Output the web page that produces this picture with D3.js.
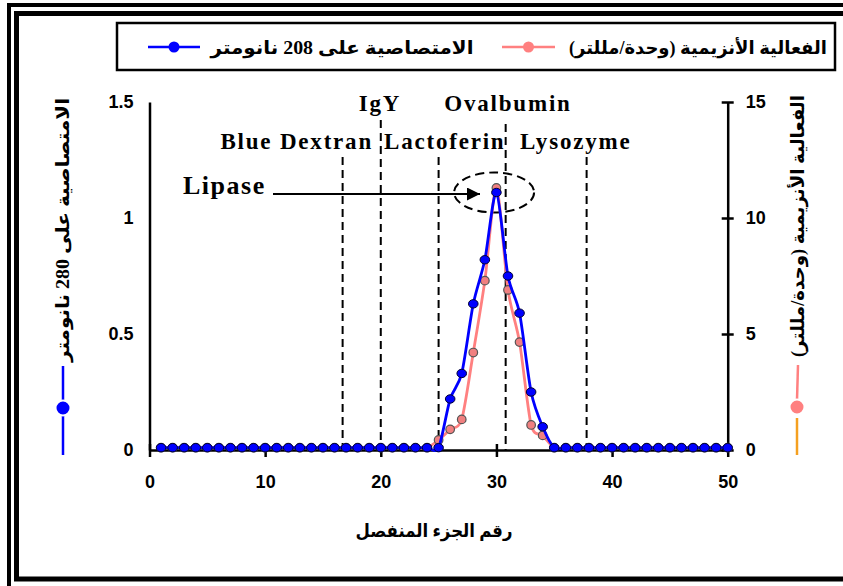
<!DOCTYPE html>
<html>
<head>
<meta charset="utf-8">
<script src="https://cdn.jsdelivr.net/npm/d3@7"></script>
<style>
  body { margin: 0; background: #fff; }
  .tick text { font-family: "Liberation Sans", Arial, sans-serif; font-weight: bold; font-size: 18px; }
  .lbl { font-family: "Liberation Serif", "Times New Roman", serif; font-weight: bold; }
  .ar { font-family: "Liberation Serif", "DejaVu Sans", serif; font-weight: bold; }
</style>
</head>
<body>
<svg id="chart" width="843" height="586"></svg>
<script>
// fraction number (x), absorbance (left axis), enzyme activity (right axis)
var fractions = [1,2,3,4,5,6,7,8,9,10,11,12,13,14,15,16,17,18,19,20,21,22,23,24,25,
                 26,27,28,29,30,31,32,33,34,35,36,37,38,39,40,41,42,43,44,45,46,47,48,49,50];
var absorbance = [0.01,0.01,0.01,0.01,0.01,0.01,0.01,0.01,0.01,0.01,0.01,0.01,0.01,0.01,0.01,
                  0.01,0.01,0.01,0.01,0.01,0.01,0.01,0.01,0.01,0.01,
                  0.22,0.33,0.63,0.82,1.11,0.75,0.59,0.25,0.10,0.01,
                  0.01,0.01,0.01,0.01,0.01,0.01,0.01,0.01,0.01,0.01,0.01,0.01,0.01,0.01,0.01];
var activity = [0.1,0.1,0.1,0.1,0.1,0.1,0.1,0.1,0.1,0.1,0.1,0.1,0.1,0.1,0.1,
                0.1,0.1,0.1,0.1,0.1,0.1,0.1,0.1,0.1,0.43,
                0.89,1.32,4.2,7.3,11.3,6.9,4.65,1.08,0.63,0.1,
                0.1,0.1,0.1,0.1,0.1,0.1,0.1,0.1,0.1,0.1,0.1,0.1,0.1,0.1,0.1];
var xTicks = [0,10,20,30,40,50];
var leftTicks = [0,0.5,1,1.5];
var rightTicks = [0,5,10,15];
// standard markers (fraction where each one elutes)
var markerNames = ["Blue Dextran","IgY","Lactoferin","Ovalbumin","Lysozyme"];
var markerPos = [16.7,20,25,30.8,37.8];

var legendBlue = "الامتصاصية على 208 نانومتر";
var legendPink = "الفعالية الأنزيمية (وحدة/مللتر)";
var leftTitle = "الامتصاصية على 280 نانومتر";
var rightTitle = "الفعالية الأنزيمية (وحدة/مللتر)";
var xTitle = "رقم الجزء المنفصل";

var svg = d3.select("#chart");
var blue = "#0000ff", pink = "#ff8080";

// double frame
svg.append("rect").attr("x", 9).attr("y", 5).attr("width", 900).attr("height", 700)
   .attr("fill", "none").attr("stroke", "#000").attr("stroke-width", 4);
svg.append("rect").attr("x", 16.5).attr("y", 13.5).attr("width", 900).attr("height", 565.5)
   .attr("fill", "none").attr("stroke", "#000").attr("stroke-width", 5);

var x = d3.scaleLinear().domain([0, 50]).range([149.5, 727.7]);
var y = d3.scaleLinear().domain([0, 1.5]).range([450, 102]);
var y2 = d3.scaleLinear().domain([0, 15]).range([450, 102]);

// axes
var gx = svg.append("g").attr("transform", "translate(0,450)")
  .call(d3.axisBottom(x).tickValues(xTicks).tickSizeInner(7).tickSizeOuter(0).tickPadding(18));
gx.selectAll(".tick line").attr("y1", -6);
var gl = svg.append("g").attr("transform", "translate(149.5,0)")
  .call(d3.axisLeft(y).tickValues(leftTicks).tickFormat(d3.format("")).tickSizeInner(7).tickSizeOuter(0).tickPadding(9));
gl.selectAll(".tick line").attr("x1", -7);
var gr = svg.append("g").attr("transform", "translate(727.7,0)")
  .call(d3.axisRight(y2).tickValues(rightTicks).tickSizeInner(6).tickSizeOuter(0).tickPadding(12));
gr.selectAll(".tick line").attr("x1", -6);
svg.selectAll(".domain").attr("stroke-width", 2.5);
svg.selectAll(".tick line").attr("stroke-width", 2.5);
svg.selectAll(".tick text").attr("fill", "#000");

// marker dashed lines and labels
var labelY = [149, 111, 149, 111, 149];
var lineTop = [157, 120, 157, 124, 157];
markerPos.forEach(function(m, i) {
  svg.append("line").attr("x1", x(m)).attr("x2", x(m)).attr("y1", lineTop[i]).attr("y2", 450)
     .attr("stroke", "#000").attr("stroke-width", 2).attr("stroke-dasharray", "8,5");
});
var labelX = [373, 380, 384, 508, 520];
var anchors = ["end", "middle", "start", "middle", "start"];
markerNames.forEach(function(n, i) {
  svg.append("text").attr("class", "lbl").attr("x", labelX[i]).attr("y", labelY[i])
     .attr("text-anchor", anchors[i]).attr("font-size", 23).attr("letter-spacing", 1.8)
     .text(n);
});

// Lipase arrow and ellipse
svg.append("defs").append("marker").attr("id", "arr").attr("viewBox", "0 0 10 10")
   .attr("refX", 10).attr("refY", 5).attr("markerWidth", 20).attr("markerHeight", 13)
   .attr("markerUnits", "userSpaceOnUse").attr("orient", "auto")
   .append("path").attr("d", "M0,0L10,5L0,10z").attr("fill", "#000");
svg.append("text").attr("class", "lbl").attr("x", 183).attr("y", 194)
   .attr("font-size", 26).attr("letter-spacing", 1.5).text("Lipase");
svg.append("line").attr("x1", 273).attr("x2", 480).attr("y1", 194).attr("y2", 194)
   .attr("stroke", "#000").attr("stroke-width", 2).attr("marker-end", "url(#arr)");
svg.append("ellipse").attr("cx", x(29.8)).attr("cy", y(1.11)).attr("rx", 40).attr("ry", 20)
   .attr("fill", "none").attr("stroke", "#000").attr("stroke-width", 2).attr("stroke-dasharray", "9,5");

// series
var pts = fractions.map(function(f, i) { return { f: f, a: absorbance[i], e: activity[i] }; });
var curve = d3.curveCardinal.tension(0.2);
svg.append("path").datum(pts).attr("fill", "none").attr("stroke", pink).attr("stroke-width", 2.8)
   .attr("d", d3.line().curve(curve).x(function(d) { return x(d.f); }).y(function(d) { return y2(d.e); }));
svg.append("g").selectAll("circle").data(pts).join("circle")
   .attr("cx", function(d) { return x(d.f); }).attr("cy", function(d) { return y2(d.e); })
   .attr("r", 4.3).attr("fill", "#f08080").attr("stroke", "#555").attr("stroke-width", 1.2);
svg.append("path").datum(pts).attr("fill", "none").attr("stroke", blue).attr("stroke-width", 2.8)
   .attr("d", d3.line().curve(curve).x(function(d) { return x(d.f); }).y(function(d) { return y(d.a); }));
svg.append("g").selectAll("ellipse").data(pts).join("ellipse")
   .attr("cx", function(d) { return x(d.f); }).attr("cy", function(d) { return y(d.a); })
   .attr("rx", 4.8).attr("ry", 4.2).attr("fill", blue).attr("stroke", "#000033").attr("stroke-width", 1);

// legend
svg.append("rect").attr("x", 117).attr("y", 23).attr("width", 718).attr("height", 47)
   .attr("fill", "#fff").attr("stroke", "#000").attr("stroke-width", 2.5);
function legendSymbol(x1, x2, cy, color, r) {
  svg.append("line").attr("x1", x1).attr("x2", x2).attr("y1", cy).attr("y2", cy)
     .attr("stroke", color).attr("stroke-width", 2.5);
  svg.append("circle").attr("cx", (x1 + x2) / 2).attr("cy", cy).attr("r", r).attr("fill", color);
}
legendSymbol(148, 200, 47, blue, 5.5);
legendSymbol(502, 555, 47, pink, 5.5);
svg.append("text").attr("class", "ar").attr("direction", "rtl").attr("x", 342).attr("y", 54)
   .attr("text-anchor", "middle").attr("font-size", 18)
   .attr("textLength", 263).attr("lengthAdjust", "spacingAndGlyphs").text(legendBlue);
svg.append("text").attr("class", "ar").attr("direction", "rtl").attr("x", 698).attr("y", 54)
   .attr("text-anchor", "middle").attr("font-size", 18)
   .attr("textLength", 258).attr("lengthAdjust", "spacingAndGlyphs").text(legendPink);

// axis titles
svg.append("text").attr("class", "ar").attr("direction", "rtl").attr("x", 434).attr("y", 537)
   .attr("text-anchor", "middle").attr("font-size", 18)
   .attr("textLength", 157).attr("lengthAdjust", "spacingAndGlyphs").text(xTitle);
svg.append("text").attr("class", "ar").attr("direction", "rtl")
   .attr("transform", "translate(69,230) rotate(-90)").attr("text-anchor", "middle").attr("font-size", 18)
   .attr("textLength", 264).attr("lengthAdjust", "spacingAndGlyphs").text(leftTitle);
svg.append("text").attr("class", "ar").attr("direction", "rtl")
   .attr("transform", "translate(804,226) rotate(-90)").attr("text-anchor", "middle").attr("font-size", 18)
   .attr("textLength", 262).attr("lengthAdjust", "spacingAndGlyphs").text(rightTitle);

// vertical legend keys under the axis titles
svg.append("line").attr("x1", 63).attr("x2", 63).attr("y1", 366).attr("y2", 455).attr("stroke", blue).attr("stroke-width", 2.5);
svg.append("circle").attr("cx", 63).attr("cy", 408).attr("r", 7.5).attr("fill", blue).attr("stroke", "#fff").attr("stroke-width", 2);
svg.append("line").attr("x1", 798).attr("x2", 797).attr("y1", 365).attr("y2", 400).attr("stroke", pink).attr("stroke-width", 2.5);
svg.append("line").attr("x1", 797).attr("x2", 797).attr("y1", 418).attr("y2", 455).attr("stroke", "#f5a020").attr("stroke-width", 2.5);
svg.append("circle").attr("cx", 797).attr("cy", 407).attr("r", 7.5).attr("fill", pink).attr("stroke", "#fff").attr("stroke-width", 2);
</script>
</body>
</html>
